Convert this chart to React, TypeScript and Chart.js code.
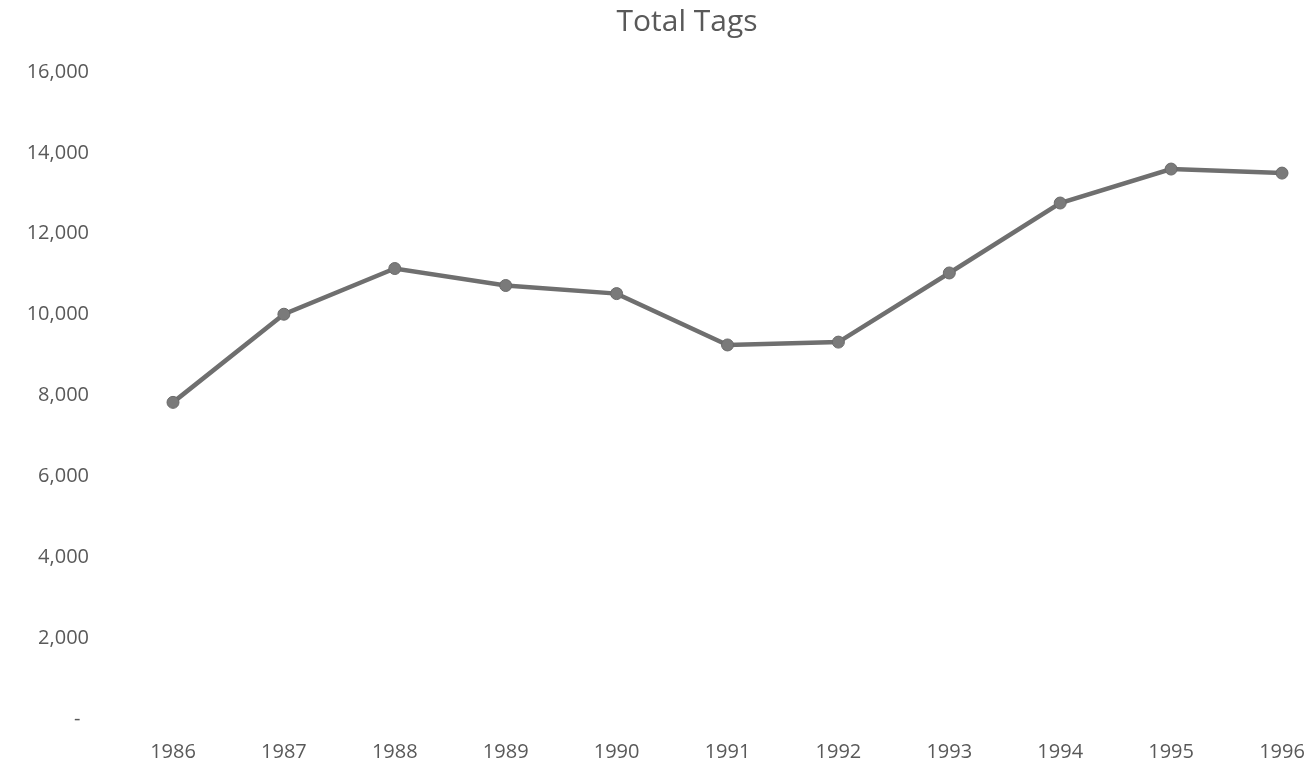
import React, { useEffect, useRef } from "react";
import { Chart, registerables } from "chart.js";

Chart.register(...registerables);

const years = ["1986", "1987", "1988", "1989", "1990", "1991", "1992", "1993", "1994", "1995", "1996"];
const totalTags = [7830, 10010, 11140, 10720, 10520, 9250, 9320, 11030, 12760, 13600, 13500];
const yTicks = [0, 2000, 4000, 6000, 8000, 10000, 12000, 14000, 16000];

const FONT = "'Open Sans', 'Liberation Sans', sans-serif";
const TEXT = "#595959";
const LINE = "#6f6f6f";

export default function App() {
  const ref = useRef<HTMLCanvasElement | null>(null);
  useEffect(() => {
    if (!ref.current) return;
    const shiftTitle = {
      id: "shiftTitle",
      afterLayout(chart: any) {
        const tb = chart.titleBlock;
        if (tb) tb.left = tb.left + 64;
      },
    };
    const chart = new Chart(ref.current, {
      type: "line",
      plugins: [shiftTitle],
      data: {
        labels: years,
        datasets: [
          {
            label: "Total Tags",
            data: totalTags,
            borderColor: LINE,
            backgroundColor: LINE,
            borderWidth: 4.5,
            pointRadius: 6,
            pointBackgroundColor: "#7a7a7a",
            pointBorderColor: "#6a6a6a",
            pointBorderWidth: 1,
            tension: 0,
          },
        ],
      },
      options: {
        animation: false,
        responsive: false,
        maintainAspectRatio: false,
        devicePixelRatio: 1,
        layout: { padding: { left: 28, right: 31, top: 0, bottom: 15 } },
        plugins: {
          legend: { display: false },
          tooltip: { enabled: false },
          title: {
            display: true,
            text: "Total Tags",
            color: TEXT,
            font: { family: FONT, size: 30, weight: "normal" },
            padding: { top: 4, bottom: 32 },
          },
        },
        scales: {
          x: {
            offset: false,
            grid: { display: false, drawTicks: false },
            border: { display: false },
            afterFit: (axis: any) => {
              axis.height = 45;
              axis.paddingLeft = 0;
              axis.paddingRight = 0;
            },
            ticks: {
              color: TEXT,
              font: { family: FONT, size: 20 },
              padding: 21,
              maxRotation: 0,
              autoSkip: false,
            },
          },
          y: {
            min: 0,
            max: 16000,
            afterBuildTicks: (axis: any) => {
              axis.ticks = yTicks.map((v) => ({ value: v }));
            },
            afterFit: (axis: any) => {
              axis.width = 145;
              axis.paddingTop = 0;
              axis.paddingBottom = 0;
            },
            grid: { display: false, drawTicks: false },
            border: { display: false },
            ticks: {
              color: TEXT,
              font: { family: FONT, size: 20 },
              padding: 84,
              callback: (v: any) => (Number(v) === 0 ? "- \u2009" : Number(v).toLocaleString("en-US")),
            },
          },
        },
      },
    });
    return () => chart.destroy();
  }, []);
  return (
    <div style={{ position: "absolute", left: 0, top: 0, width: 1313, height: 779, overflow: "hidden", background: "#fff" }}>
      <canvas ref={ref} width={1313} height={779} style={{ display: "block", width: 1313, height: 779 }} />
    </div>
  );
}
